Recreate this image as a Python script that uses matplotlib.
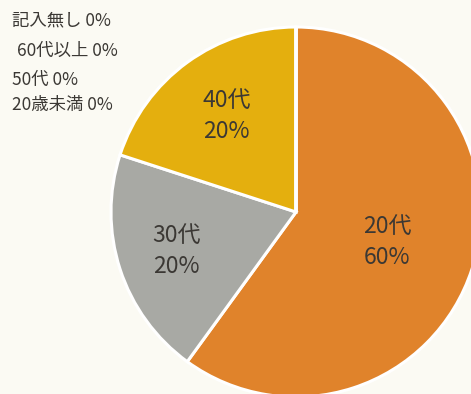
import matplotlib.pyplot as plt
import numpy as np

plt.rcParams['font.family'] = ['Noto Sans CJK JP', 'DejaVu Sans']

# Age groups and their share (%)
labels = ["20歳未満", "20代", "30代", "40代", "50代", "60代以上", "記入無し"]
values = [0, 60, 20, 20, 0, 0, 0]
colors = ["#5b7fbf", "#e0832b", "#a8a9a4", "#e4af0e", "#7a9a3c", "#4a6fa8", "#999999"]

# zero-share groups listed in the corner, top to bottom
zero_order = ["記入無し", "60代以上", "50代", "20歳未満"]
zero_pos = [(12, 20), (17, 51), (12, 80), (12, 105)]
# how far from the centre each in-slice label sits
label_dist = {"20代": 0.52, "30代": 0.68, "40代": 0.64}

bg = "#fbfaf3"
txt = "#3b3834"

W, H = 471, 394
cx, cy, R = 296, 182, 185  # pie centre (from bottom-left) and radius in px

fig = plt.figure(figsize=(W / 100, H / 100), dpi=100, facecolor=bg)
ax = fig.add_axes([0, 0, 1, 1])
ax.set_facecolor(bg)

wedges, _ = ax.pie(values, colors=colors, startangle=90, counterclock=False,
                   wedgeprops=dict(edgecolor="white", linewidth=2.2))

for w, name, v in zip(wedges, labels, values):
    if v == 0:
        continue
    mid = np.deg2rad((w.theta1 + w.theta2) / 2)
    d = label_dist[name]
    ax.text(d * np.cos(mid), d * np.sin(mid), f"{name}\n{v}%", ha="center", va="center",
            fontsize=16.5, color=txt, linespacing=1.45)

for name, (px, py) in zip(zero_order, zero_pos):
    v = values[labels.index(name)]
    fig.text(px / W, 1 - py / H, f"{name} {v}%", ha="left", va="center",
             fontsize=12.5, color=txt)

ax.set_xlim(-cx / R, (W - cx) / R)
ax.set_ylim(-cy / R, (H - cy) / R)
ax.set_aspect("auto")
ax.axis("off")

fig.savefig("out.png", dpi=100, facecolor=bg)
